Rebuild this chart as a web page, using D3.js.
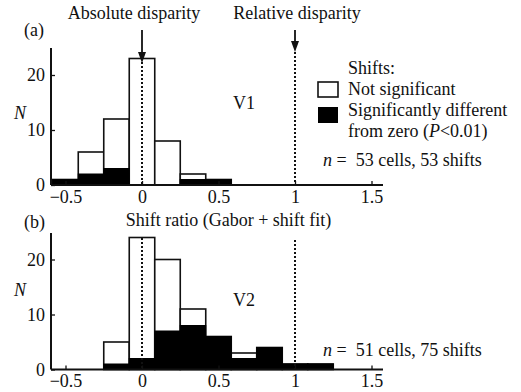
<!DOCTYPE html>
<html>
<head>
<meta charset="utf-8">
<script src="https://cdn.jsdelivr.net/npm/d3@7/dist/d3.min.js"></script>
<style>
  body { margin: 0; background: #fff; }
  text { font-family: "Liberation Serif", "Times New Roman", serif; fill: #111; }
</style>
</head>
<body>
<svg width="521" height="392"></svg>
<script>
// bins are 1/6 wide, centred on multiples of 1/6
var v1Centers = [-0.5, -0.3333, -0.1667, 0, 0.1667, 0.3333, 0.5];
var v1Total   = [1, 6, 12, 23, 8, 2, 1];
var v1Sig     = [1, 2, 3, 0, 0, 1, 1];

var v2Centers = [-0.1667, 0, 0.1667, 0.3333, 0.5, 0.6667, 0.8333, 1, 1.1667];
var v2Total   = [5, 24, 20, 11, 6, 3, 4, 1, 1];
var v2Sig     = [1, 2, 7, 8, 6, 2, 4, 1, 1];

var xTicks = [-0.5, 0, 0.5, 1, 1.5];
var yTicks = [0, 10, 20];
var binW = 1 / 6;
var fs = "18px";

var svg = d3.select("svg");
var x = d3.scaleLinear().domain([-0.5, 1.5]).range([65.5, 371.5]);

function panel(opt) {
    var y = d3.scaleLinear().domain([0, 20]).range([opt.base, opt.base - 110]);
    var g = svg.append("g");

    var rows = opt.centers.map(function (c, i) {
        return { c: c, total: opt.total[i], sig: opt.sig[i] };
    });

    // white (total) bars
    g.selectAll(".tot").data(rows).enter().append("rect")
        .attr("x", function (d) { return x(d.c - binW / 2); })
        .attr("width", x(binW) - x(0))
        .attr("y", function (d) { return y(d.total); })
        .attr("height", function (d) { return y(0) - y(d.total); })
        .attr("fill", "#fff").attr("stroke", "#111").attr("stroke-width", 1.6);

    // black (significant) bars
    g.selectAll(".sig").data(rows.filter(function (d) { return d.sig > 0; })).enter().append("rect")
        .attr("x", function (d) { return x(d.c - binW / 2); })
        .attr("width", x(binW) - x(0))
        .attr("y", function (d) { return y(d.sig); })
        .attr("height", function (d) { return y(0) - y(d.sig); })
        .attr("fill", "#000").attr("stroke", "#000").attr("stroke-width", 1);

    // dotted lines at 0 and 1
    g.append("line").attr("x1", x(0)).attr("x2", x(0))
        .attr("y1", opt.dot0Top).attr("y2", y(0))
        .attr("stroke", "#111").attr("stroke-width", 2).attr("stroke-dasharray", "2,2");
    g.append("line").attr("x1", x(1)).attr("x2", x(1))
        .attr("y1", opt.dot1Top).attr("y2", y(0))
        .attr("stroke", "#111").attr("stroke-width", 2).attr("stroke-dasharray", "2,2");

    // axes
    var xa = g.append("g").attr("transform", "translate(0," + y(0) + ")")
        .call(d3.axisBottom(x).tickValues(xTicks).tickSize(-4).tickPadding(5)
            .tickFormat(d3.format("")));
    xa.select(".domain").remove();
    xa.selectAll("text").style("font-size", fs).attr("fill", "#111");
    xa.selectAll("line").attr("stroke", "#111").attr("stroke-width", 1.3);
    g.append("line").attr("x1", 51).attr("x2", 383).attr("y1", y(0)).attr("y2", y(0))
        .attr("stroke", "#111").attr("stroke-width", 2);

    var ya = g.append("g").attr("transform", "translate(51,0)")
        .call(d3.axisLeft(y).tickValues(yTicks).tickSize(-4).tickPadding(6));
    ya.select(".domain").remove();
    ya.selectAll("text").style("font-size", fs).attr("fill", "#111");
    ya.selectAll("line").attr("stroke", "#111").attr("stroke-width", 1.3);
    g.append("line").attr("x1", 51).attr("x2", 51).attr("y1", opt.axisTop).attr("y2", y(0))
        .attr("stroke", "#111").attr("stroke-width", 2);

    g.append("text").attr("x", 20).attr("y", opt.nLabelY)
        .style("font-size", fs).style("font-style", "italic").attr("text-anchor", "middle").text("N");
    g.append("text").attr("x", 24).attr("y", opt.tagY).style("font-size", fs).text(opt.tag);
    g.append("text").attr("x", 233).attr("y", opt.areaY).style("font-size", fs).text(opt.area);

    var n = g.append("text").attr("x", 323).attr("y", opt.nY).style("font-size", fs);
    n.append("tspan").style("font-style", "italic").text("n");
    n.append("tspan").text(" =\u00a0 " + opt.nText);
    return y;
}

panel({ base: 185, axisTop: 48, centers: v1Centers, total: v1Total, sig: v1Sig,
    dot0Top: 58, dot1Top: 52, tag: "(a)", tagY: 36, area: "V1", areaY: 109,
    nLabelY: 119, nY: 166, nText: "53 cells, 53 shifts" });
panel({ base: 369.5, axisTop: 233, centers: v2Centers, total: v2Total, sig: v2Sig,
    dot0Top: 238, dot1Top: 240, tag: "(b)", tagY: 228, area: "V2", areaY: 306,
    nLabelY: 296, nY: 356, nText: "51 cells, 75 shifts" });

// arrows and top labels
function arrow(xv, y1, y2) {
    svg.append("line").attr("x1", x(xv)).attr("x2", x(xv)).attr("y1", y1).attr("y2", y2 - 8)
        .attr("stroke", "#111").attr("stroke-width", 1.8);
    svg.append("path")
        .attr("d", "M" + (x(xv) - 4) + "," + (y2 - 11) + "L" + (x(xv) + 4) + "," + (y2 - 11) + "L" + x(xv) + "," + y2 + "Z")
        .attr("fill", "#111");
}
arrow(0, 30, 63);
arrow(1, 30, 52);
svg.append("text").attr("x", x(0) - 8).attr("y", 19).attr("text-anchor", "middle")
    .style("font-size", fs).text("Absolute disparity");
svg.append("text").attr("x", x(1) + 2).attr("y", 19).attr("text-anchor", "middle")
    .style("font-size", fs).text("Relative disparity");

svg.append("text").attr("x", x(0.5) + 10).attr("y", 226).attr("text-anchor", "middle")
    .style("font-size", fs).text("Shift ratio (Gabor + shift fit)");

// legend
var lg = svg.append("g").style("font-size", fs);
lg.append("text").attr("x", 348).attr("y", 74).text("Shifts:");
lg.append("rect").attr("x", 318).attr("y", 82).attr("width", 20).attr("height", 15)
    .attr("fill", "#fff").attr("stroke", "#111").attr("stroke-width", 1.6);
lg.append("text").attr("x", 348).attr("y", 95).text("Not significant");
lg.append("rect").attr("x", 318).attr("y", 107).attr("width", 20).attr("height", 16)
    .attr("fill", "#000");
lg.append("text").attr("x", 348).attr("y", 116).text("Significantly different");
var lt = lg.append("text").attr("x", 348).attr("y", 137);
lt.append("tspan").text("from zero (");
lt.append("tspan").style("font-style", "italic").text("P");
lt.append("tspan").text("<0.01)");
</script>
</body>
</html>
